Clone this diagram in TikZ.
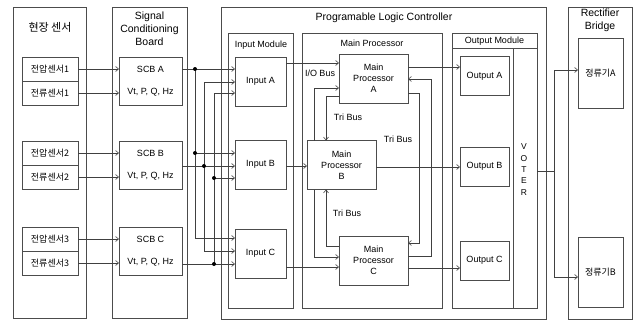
\documentclass[tikz,border=0pt]{standalone}
\usepackage{fontspec}
\setmainfont{Liberation Sans}
\newfontfamily\kr{Noto Sans CJK KR}
\usetikzlibrary{arrows.meta}

\tikzset{
  panel/.style={draw=black!70, line width=0.7pt, inner sep=0pt, outer sep=0pt},
  lbl/.style={font=\fontsize{9}{11}\selectfont, inner sep=0pt, align=center},
  krlbl/.style={font=\kr\fontsize{9}{10}\selectfont, inner sep=0pt, align=center},
  ttl/.style={font=\fontsize{10.5}{13}\selectfont, inner sep=0pt, align=center},
  sensor/.style={panel, krlbl, minimum width=56pt, minimum height=24pt},
  scbbox/.style={panel, lbl, minimum width=63pt, minimum height=48pt},
  inbox/.style={panel, lbl, minimum width=51pt, minimum height=49pt},
  mpbox/.style={panel, lbl, minimum width=69pt, minimum height=49pt},
  outbox/.style={panel, lbl, minimum width=49pt, minimum height=39pt},
  recbox/.style={panel, krlbl, minimum width=45pt, minimum height=70pt},
  wire/.style={draw=black!75, line width=0.6pt},
  arr/.style={wire, -{Straight Barb[length=3pt,width=5pt]}},
  jdot/.style={circle, fill=black, inner sep=0pt, minimum size=4pt},
}

\begin{document}
\begin{tikzpicture}[x=1pt,y=-1pt]
\useasboundingbox (0,0) rectangle (636,321);

% column frames
\node[panel, minimum width=73pt, minimum height=311pt] (field) at (49.5,162.5) {};
\node[panel, minimum width=75pt, minimum height=311pt] (scb) at (149.5,162.5) {};
\node[panel, minimum width=325pt, minimum height=312pt] (plc) at (383.5,163) {};
\node[panel, minimum width=65pt, minimum height=275pt] (inmod) at (260.5,170.5) {};
\node[panel, minimum width=140pt, minimum height=275pt] (mainp) at (372,170.5) {};
\node[panel, minimum width=85pt, minimum height=275pt] (outmod) at (494.5,170.5) {};
\node[panel, minimum width=64pt, minimum height=312pt] (rect) at (600,163) {};
\draw[panel] (outmod.west |- 0,48) -- (outmod.east |- 0,48); % header
\draw[panel] (513,48) -- (outmod.south -| 513,0); % voter

% titles
\node[ttl, font=\kr\fontsize{11}{13}\selectfont] (tField) at (50,27) {현장 센서};
\node[ttl] (tScb) at (149.5,29) {Signal\\Conditioning\\Board};
\node[ttl] (tPlc) at (384,18) {Programable Logic Controller};
\node[lbl] (tIn) at (261,45) {Input Module};
\node[lbl] (tMain) at (372,43) {Main Processor};
\node[lbl] (tOut) at (494.5,41) {Output Module};
\node[ttl] (tRect) at (600,20) {Rectifier\\Bridge};
\node[lbl, font=\fontsize{8.5}{11.3}\selectfont] (tVoter) at (524,169.5) {V\\O\\T\\E\\R};

% sensors
\node[sensor] (v1) at (50,69) {전압센서1};
\node[sensor] (c1) at (50,93) {전류센서1};
\node[sensor] (v2) at (50,153) {전압센서2};
\node[sensor] (c2) at (50,177) {전류센서2};
\node[sensor] (v3) at (50,239) {전압센서3};
\node[sensor] (c3) at (50,263) {전류센서3};

% signal conditioning
\node[scbbox] (scbA) at (150.5,81.5) {SCB A\\[11pt]Vt, P, Q, Hz};
\node[scbbox] (scbB) at (150.5,165) {SCB B\\[11pt]Vt, P, Q, Hz};
\node[scbbox] (scbC) at (150.5,251) {SCB C\\[11pt]Vt, P, Q, Hz};

\foreach \s/\b in {v1/scbA,c1/scbA,v2/scbB,c2/scbB,v3/scbC,c3/scbC}
  \draw[arr] (\s.east) -- (\s.east -| \b.west);

% inputs
\node[inbox] (inA) at (260.5,81.5) {Input A};
\node[inbox] (inB) at (260.5,164.5) {Input B};
\node[inbox] (inC) at (260.5,253.5) {Input C};

\coordinate (jA) at (195,69);
\coordinate (jB) at (204,166);
\coordinate (jC) at (214,264);

\draw[arr] (scbA.east |- jA) -- (inA.west |- jA);
\draw[arr] (jA) |- (inB.west |- 0,153);
\draw[arr] (jA) |- (inC.west |- 0,238);
\draw[arr] (scbB.east |- jB) -- (inB.west |- jB);
\draw[arr] (jB) |- (inA.west |- 0,82);
\draw[arr] (jB) |- (inC.west |- 0,251);
\draw[arr] (scbC.east |- jC) -- (inC.west |- jC);
\draw[arr] (jC) |- (inA.west |- 0,93);
\draw[arr] (jC) |- (inB.west |- 0,178);

\node[jdot] (dA1) at (jA) {};
\node[jdot] (dA2) at (195,153) {};
\node[jdot] (dB1) at (jB) {};
\node[jdot] (dC1) at (jC) {};
\node[jdot] (dC2) at (214,178) {};

% main processors
\node[mpbox] (mpA) at (373.5,78.5) {Main\\Processor\\A};
\node[mpbox] (mpB) at (341.5,165) {Main\\Processor\\B};
\node[mpbox] (mpC) at (373.5,260.5) {Main\\Processor\\C};

\draw[arr] (inA.east |- 0,63) -- (mpA.west |- 0,63);
\draw[arr] (inB.east |- 0,166) -- (mpB.west |- 0,166);
\draw[arr] (inC.east |- 0,267) -- (mpC.west |- 0,267);
\node[lbl] (tIO) at (320,73) {I/O Bus};

% tri bus
\draw[arr] (mpB.north -| 314,0) |- (mpA.west |- 0,88);
\draw[arr] (mpB.south -| 314,0) |- (mpC.west |- 0,257);
\draw[arr] (mpA.west |- 0,96) -| (mpB.north -| 326,0);
\draw[arr] (mpC.west |- 0,246) -| (mpB.south -| 326,0);
\draw[arr] (mpA.east |- 0,93) -- (419,93) -- (419,243) -- (mpC.east |- 0,243);
\draw[arr] (mpC.east |- 0,256) -- (431,256) -- (431,79) -- (mpA.east |- 0,79);
\node[lbl] (tTri1) at (348,117) {Tri Bus};
\node[lbl] (tTri2) at (398,139) {Tri Bus};
\node[lbl] (tTri3) at (347,213) {Tri Bus};

% outputs
\node[outbox] (outA) at (484.5,76) {Output A};
\node[outbox] (outB) at (484.5,166.5) {Output B};
\node[outbox] (outC) at (484.5,260.5) {Output C};

\draw[arr] (mpA.east |- 0,67) -- (outA.west |- 0,67);
\draw[arr] (mpB.east |- 0,167) -- (outB.west |- 0,167);
\draw[arr] (mpC.east |- 0,268) -- (outC.west |- 0,268);

% rectifiers
\node[recbox] (recA) at (600.5,73.5) {정류기A};
\node[recbox] (recB) at (600.5,272.5) {정류기B};

\coordinate (vout) at (554,171);
\draw[wire] (outmod.east |- vout) -- (vout);
\draw[arr] (vout) |- (recA.west |- 0,70);
\draw[arr] (vout) |- (recB.west |- 0,277);
\end{tikzpicture}
\end{document}
